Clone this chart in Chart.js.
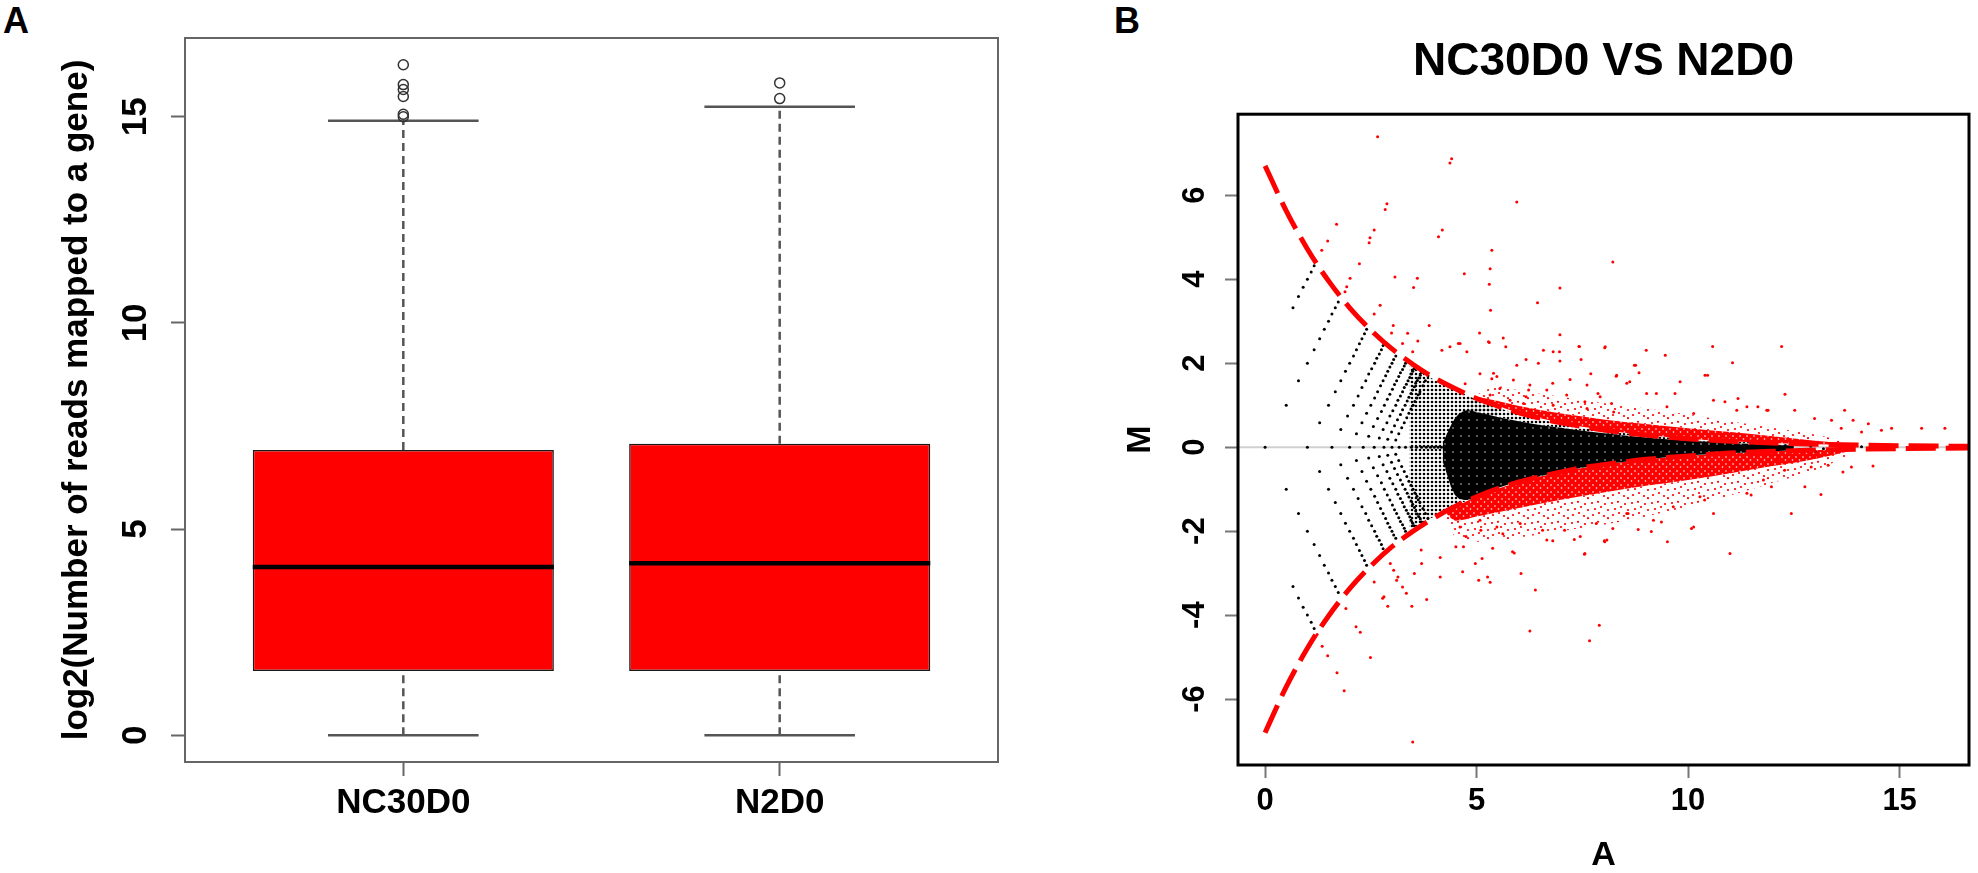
<!DOCTYPE html>
<html>
<head>
<meta charset="utf-8">
<script src="https://cdn.jsdelivr.net/npm/chart.js@4.4.1/dist/chart.umd.min.js"></script>
<style>
    html, body { margin: 0; padding: 0; background: #ffffff; }
    body { width: 1978px; height: 873px; position: relative; overflow: hidden; font-family: "Liberation Sans", Arial, sans-serif; }
    .panel-letter { position: absolute; font-weight: bold; font-size: 36px; line-height: 1; color: #000; }
    #boxWrap { position: absolute; left: 0; top: 0; width: 1010px; height: 873px; }
    #maWrap  { position: absolute; left: 1010px; top: 0; width: 968px; height: 873px; }
</style>
</head>
<body>
<div class="panel-letter" style="left:3px; top:3px;">A</div>
<div class="panel-letter" style="left:1114px; top:3px;">B</div>
<div id="boxWrap"><canvas id="boxChart"></canvas></div>
<div id="maWrap"><canvas id="maChart"></canvas></div>

<script>
// ---------------- Panel A : box plot ----------------
const boxCategories  = ["NC30D0", "N2D0"];
const boxWhiskerLow  = [0, 0];
const boxQ1          = [1.56, 1.56];
const boxMedian      = [4.08, 4.17];
const boxQ3          = [6.92, 7.07];
const boxWhiskerHigh = [14.90, 15.24];
const outlierGroup   = [1, 1, 1, 1, 1, 1, 2, 2];
const outlierValue   = [15.00, 15.06, 15.49, 15.66, 15.78, 16.26, 15.44, 15.82];

// ---------------- Panel B : MA plot ----------------
// dashed red boundary curves
const curveA      = [0, 0.5, 1, 1.5, 2, 2.5, 3, 3.5, 4, 4.5, 5, 5.5, 6, 6.5, 7, 7.5, 8, 9, 10, 11, 12, 13, 14, 15, 16, 17];
const curveUpperM = [6.70, 5.63, 4.72, 3.96, 3.32, 2.79, 2.34, 1.97, 1.65, 1.39, 1.16, 0.98, 0.82, 0.69, 0.58, 0.49, 0.41, 0.29, 0.20, 0.14, 0.10, 0.07, 0.05, 0.035, 0.025, 0.02];
const curveLowerM = [-6.80, -5.71, -4.79, -4.02, -3.37, -2.83, -2.37, -2.00, -1.68, -1.41, -1.18, -0.99, -0.83, -0.70, -0.59, -0.49, -0.42, -0.29, -0.21, -0.14, -0.10, -0.07, -0.05, -0.035, -0.025, -0.02];

// dense black core of the cloud
const coreA      = [4.2, 4.5, 4.8, 5.0, 5.5, 6.0, 6.5, 7.0, 7.5, 8.0, 8.5, 9.0, 9.5, 10.0, 10.5, 11.0, 11.5, 12.0, 12.5];
const coreUpperM = [0.10, 0.70, 0.88, 0.84, 0.72, 0.62, 0.53, 0.46, 0.39, 0.33, 0.28, 0.23, 0.19, 0.16, 0.13, 0.10, 0.08, 0.06, 0.03];
const coreLowerM = [-0.35, -1.15, -1.26, -1.15, -0.97, -0.82, -0.69, -0.58, -0.49, -0.41, -0.35, -0.29, -0.24, -0.20, -0.17, -0.14, -0.12, -0.10, -0.07];

// less dense black fringe between the core and the upper curve
const fringeA      = [4.8, 5.0, 5.5, 6.0, 6.5, 7.0, 7.5, 8.0, 8.5, 9.0, 9.5, 10.0, 10.5, 11.0, 11.5, 12.0, 12.5];
const fringeUpperM = [1.20, 1.12, 0.94, 0.79, 0.66, 0.56, 0.47, 0.39, 0.33, 0.28, 0.23, 0.19, 0.16, 0.135, 0.115, 0.095, 0.08];
const fringeLowerM = [0.88, 0.84, 0.72, 0.62, 0.53, 0.46, 0.39, 0.33, 0.28, 0.23, 0.19, 0.16, 0.13, 0.10, 0.08, 0.06, 0.03];

// lattice region where the low-count points become dense
const shadeA      = [3.4, 3.8, 4.2, 4.6, 5.0, 5.5];
const shadeUpperM = [1.95, 1.72, 1.50, 1.32, 1.13, 0.95];
const shadeLowerM = [-1.98, -1.76, -1.55, -1.36, -1.16, -0.97];

// dense red bands just outside the curves
const redUpA      = [5.0, 5.5, 6.0, 7.0, 8.0, 9.0, 10.0, 11.0, 12.0, 13.0, 13.8];
const redUpInnerM = [1.16, 0.98, 0.82, 0.58, 0.41, 0.29, 0.20, 0.14, 0.10, 0.07, 0.06];
const redUpMidM   = [1.20, 1.10, 0.98, 0.80, 0.66, 0.55, 0.45, 0.36, 0.26, 0.15, 0.08];
const redUpOuterM = [1.25, 1.45, 1.35, 1.20, 1.05, 0.92, 0.78, 0.62, 0.46, 0.30, 0.12];

const redLowA      = [4.3, 4.5, 5.0, 6.0, 7.0, 8.0, 9.0, 10.0, 11.0, 12.0, 13.0, 13.8];
const redLowInnerM = [-1.51, -1.41, -1.18, -0.83, -0.59, -0.42, -0.29, -0.21, -0.14, -0.10, -0.07, -0.06];
const redLowMidM   = [-1.60, -1.75, -1.65, -1.45, -1.25, -1.08, -0.92, -0.78, -0.62, -0.45, -0.28, -0.10];
const redLowOuterM = [-1.70, -2.15, -2.25, -2.15, -2.00, -1.85, -1.65, -1.42, -1.15, -0.85, -0.55, -0.20];

// black low-count lattice points [A, M]
const latticeUpper = [
    [0.66,3.32],[0.79,3.59],[0.90,3.81],[1.00,4.00],[1.09,4.17],[1.16,4.32],
    [0.50,1.00],[0.79,1.58],[1.00,2.00],[1.16,2.32],[1.29,2.58],[1.40,2.81],[1.50,3.00],[1.58,3.17],[1.66,3.32],[1.73,3.46],
    [1.29,0.58],[1.50,1.00],[1.66,1.32],[1.79,1.58],[1.90,1.81],[2.00,2.00],[2.09,2.17],[2.16,2.32],[2.23,2.46],[2.29,2.58],[2.35,2.70],[2.40,2.81],
    [1.79,0.42],[1.95,0.74],[2.09,1.00],[2.20,1.22],[2.29,1.42],[2.38,1.58],[2.45,1.74],[2.52,1.87],[2.59,2.00],[2.64,2.12],[2.70,2.22],[2.75,2.32],[2.79,2.42],
    [2.16,0.32],[2.29,0.58],[2.40,0.81],[2.50,1.00],[2.59,1.17],[2.66,1.32],[2.73,1.46],[2.79,1.58],[2.85,1.70],[2.90,1.81],[2.95,1.91],[3.00,2.00],[3.04,2.09],[3.09,2.17],
    [2.45,0.26],[2.56,0.49],[2.66,0.68],[2.75,0.85],[2.82,1.00],[2.89,1.14],[2.95,1.26],[3.01,1.38],[3.06,1.49],[3.11,1.58],[3.16,1.68],[3.20,1.77],[3.25,1.85],[3.29,1.93],[3.32,2.00],
    [2.70,0.22],[2.79,0.42],[2.88,0.58],[2.95,0.74],[3.02,0.87],[3.09,1.00],[3.14,1.12],[3.20,1.22],[3.25,1.32],[3.29,1.42],[3.34,1.50],[3.38,1.58],[3.42,1.66],[3.45,1.74],[3.49,1.81],[3.52,1.87],
    [2.90,0.19],[2.99,0.36],[3.06,0.51],[3.13,0.65],[3.20,0.78],[3.25,0.89],[3.31,1.00],[3.36,1.10],[3.40,1.19],[3.45,1.28],[3.49,1.36],[3.53,1.44],[3.56,1.52],[3.60,1.59],[3.63,1.65],[3.67,1.71],[3.70,1.78],
    [3.09,0.17],[3.16,0.32],[3.23,0.46],[3.29,0.58],[3.35,0.70],[3.40,0.81],[3.45,0.91],[3.50,1.00],[3.54,1.09],[3.59,1.17],[3.62,1.25],[3.66,1.32],[3.73,1.46],[3.79,1.58],[3.85,1.70]
];
const latticeLower = [
    [0.66,-3.32],[0.79,-3.59],[0.90,-3.81],[1.00,-4.00],[1.09,-4.17],[1.16,-4.32],
    [0.50,-1.00],[0.79,-1.58],[1.00,-2.00],[1.16,-2.32],[1.29,-2.58],[1.40,-2.81],[1.50,-3.00],[1.58,-3.17],[1.66,-3.32],[1.73,-3.46],
    [1.29,-0.58],[1.50,-1.00],[1.66,-1.32],[1.79,-1.58],[1.90,-1.81],[2.00,-2.00],[2.09,-2.17],[2.16,-2.32],[2.23,-2.46],[2.29,-2.58],[2.35,-2.70],[2.40,-2.81],
    [1.79,-0.42],[1.95,-0.74],[2.09,-1.00],[2.20,-1.22],[2.29,-1.42],[2.38,-1.58],[2.45,-1.74],[2.52,-1.87],[2.59,-2.00],[2.64,-2.12],[2.70,-2.22],[2.75,-2.32],[2.79,-2.42],
    [2.16,-0.32],[2.29,-0.58],[2.40,-0.81],[2.50,-1.00],[2.59,-1.17],[2.66,-1.32],[2.73,-1.46],[2.79,-1.58],[2.85,-1.70],[2.90,-1.81],[2.95,-1.91],[3.00,-2.00],[3.04,-2.09],[3.09,-2.17],
    [2.45,-0.26],[2.56,-0.49],[2.66,-0.68],[2.75,-0.85],[2.82,-1.00],[2.89,-1.14],[2.95,-1.26],[3.01,-1.38],[3.06,-1.49],[3.11,-1.58],[3.16,-1.68],[3.20,-1.77],[3.25,-1.85],[3.29,-1.93],[3.32,-2.00],
    [2.70,-0.22],[2.79,-0.42],[2.88,-0.58],[2.95,-0.74],[3.02,-0.87],[3.09,-1.00],[3.14,-1.12],[3.20,-1.22],[3.25,-1.32],[3.29,-1.42],[3.34,-1.50],[3.38,-1.58],[3.42,-1.66],[3.45,-1.74],[3.49,-1.81],[3.52,-1.87],
    [2.90,-0.19],[2.99,-0.36],[3.06,-0.51],[3.13,-0.65],[3.20,-0.78],[3.25,-0.89],[3.31,-1.00],[3.36,-1.10],[3.40,-1.19],[3.45,-1.28],[3.49,-1.36],[3.53,-1.44],[3.56,-1.52],[3.60,-1.59],[3.63,-1.65],[3.67,-1.71],[3.70,-1.78],
    [3.09,-0.17],[3.16,-0.32],[3.23,-0.46],[3.29,-0.58],[3.35,-0.70],[3.40,-0.81],[3.45,-0.91],[3.50,-1.00],[3.54,-1.09],[3.59,-1.17],[3.62,-1.25],[3.66,-1.32],[3.73,-1.46],[3.79,-1.58],[3.85,-1.70]
];
const latticeZero = [[0,0],[1.00,0],[1.58,0],[2.00,0],[2.32,0],[2.58,0],[2.81,0],[3.00,0],[3.17,0],[3.32,0],[3.46,0],[3.58,0],[3.70,0],[3.81,0],[3.91,0],[4.00,0],[4.09,0],[4.17,0]];
const tailBlack   = [[12.30,0.04],[12.45,0.08],[12.60,-0.06],[12.90,0.02],[13.00,-0.09],[13.20,-0.04],[13.50,0.03],[13.80,-0.02],[14.10,0.01]];

// red (significant) points [A, M]
const redUpperPoints = [
    [2.66,7.39],[4.41,6.87],[4.37,6.77],[5.95,5.84],[8.22,4.41],[1.69,5.31],[1.48,4.91],[1.34,4.69],[2.88,5.80],[2.84,5.66],
    [2.58,5.17],[2.48,4.99],[2.46,4.87],[2.23,4.37],[2.01,4.02],[1.93,3.82],[1.89,3.70],[3.07,4.05],[3.60,4.02],[3.51,3.80],
    [2.72,3.38],[2.58,3.17],[3.03,2.90],[2.99,2.72],[3.37,2.71],[3.25,2.47],[3.49,2.27],[3.61,2.53],[3.88,2.90],[4.10,5.01],
    [4.19,5.17],[4.71,4.13],[5.36,4.69],[5.32,4.25],[5.30,3.88],[5.33,3.26],[5.07,2.72],[5.30,2.49],[6.44,3.44],[6.97,3.79],
    [6.97,2.68],[6.97,2.05],[6.96,2.27],[7.42,2.40],[6.58,2.31],[6.17,2.09],[5.63,2.60],[5.69,2.39],[4.57,2.47],[4.77,2.27],
    [4.37,2.39],[4.18,2.31],[7.47,2.09],[8.04,2.39],[8.30,1.69],[7.21,1.61],[6.80,1.52],[6.26,1.48],[6.17,1.20],[5.87,1.60],
    [5.48,1.68],[5.40,1.76],[4.61,2.47],[5.28,2.51],[7.43,2.40],[10.58,2.40],[9.46,2.19],[8.73,1.95],[11.05,2.01],[10.40,1.71],
    [10.46,1.71],[9.81,1.56],[8.31,1.71],[8.55,1.52],[7.61,1.48],[6.81,2.27],[6.46,2.00],[5.95,1.95],[5.08,1.75],[5.36,1.63],
    [5.55,1.40],[4.73,1.51],[5.32,1.24],[6.23,1.36],[6.66,1.36],[7.13,1.24],[7.92,1.20],[9.02,1.28],[9.50,0.96],[10.60,1.12],
    [11.39,0.96],[11.86,0.88],[11.15,0.88],[10.13,0.80],[8.24,0.84],[7.61,0.92],[6.81,1.00],[6.11,1.04],[5.79,1.12],[8.03,2.37],
    [9.01,2.31],[12.21,2.40],[8.76,1.95],[8.84,1.77],[7.70,1.75],[8.62,1.56],[12.29,1.26],[13.70,0.88],[15.52,0.45],[16.07,0.45],
    [14.81,0.45],[14.57,0.40],[14.26,0.56],[14.10,0.36],[13.90,0.64],[13.62,0.45],[13.39,0.64],[12.99,0.68],[12.52,0.88],[11.65,0.96],
    [11.18,1.16],[11.89,0.88],[9.69,1.28],[10.87,1.08],[9.25,1.28],[7.87,1.28],[7.56,1.08],[8.19,1.04]
];
const redLowerPoints = [
    [1.23,-4.46],[1.35,-4.74],[1.48,-4.97],[1.70,-5.37],[1.87,-5.80],[2.15,-4.28],[2.25,-4.41],[2.49,-5.01],[1.91,-3.84],[2.58,-3.21],
    [2.78,-3.60],[2.90,-3.79],[2.96,-2.77],[3.14,-3.09],[3.25,-3.33],[3.34,-3.48],[3.47,-3.79],[3.53,-3.01],[3.69,-2.45],[3.82,-3.63],
    [4.14,-3.09],[4.14,-2.63],[4.67,-2.97],[4.97,-2.77],[5.13,-2.65],[5.32,-3.22],[5.26,-3.09],[5.89,-2.52],[6.05,-3.01],[6.39,-3.40],
    [6.26,-4.38],[7.67,-4.61],[7.90,-4.24],[7.55,-2.55],[8.02,-2.23],[7.31,-2.20],[6.80,-2.23],[5.38,-2.41],[4.51,-2.37],[4.75,-2.13],
    [5.10,-1.98],[5.62,-2.06],[5.85,-2.49],[6.56,-1.98],[7.08,-1.98],[3.49,-7.02],[6.66,-2.21],[7.45,-2.13],[8.08,-2.21],[10.13,-1.90],
    [10.99,-2.53],[9.18,-1.74],[8.55,-1.58],[10.60,-1.58],[6.03,-1.82],[5.48,-1.90],[5.08,-1.74],[4.61,-1.90],[4.69,-2.37],[9.65,-1.42],
    [11.39,-1.10],[10.28,-1.18],[11.78,-0.78],[12.44,-1.58],[13.14,-1.13],[13.66,-0.59],[14.37,-0.45],[12.76,-0.94],[10.08,-1.94],[9.51,-2.25],
    [9.13,-2.01],[8.82,-1.96],[8.03,-2.25],[7.56,-2.53],[8.22,-1.94],[7.83,-1.82],[8.58,-1.58],[9.37,-1.78],[10.39,-1.26],[11.49,-1.14],
    [11.97,-0.94],[12.28,-0.55],[12.91,-0.47],[13.31,-0.43],[13.86,-0.47],[13.07,-0.23],[12.13,-0.31],[2.81,-3.56],[3.04,-2.93],[3.11,-3.17],
    [3.70,-2.77],[5.05,-3.17]
];

// axis limits (R style: data range extended by 4%)
const BOX_X_MIN = 0.42, BOX_X_MAX = 2.58, BOX_Y_MIN = -0.65, BOX_Y_MAX = 16.91;
const MA_A_MIN = -0.64, MA_A_MAX = 16.64, MA_M_MIN = -7.57, MA_M_MAX = 7.93;

const FONT = "Liberation Sans";
Chart.defaults.font.family = FONT;
Chart.defaults.color = "#000";

// Small repeating dot textures, used to fill the over-plotted areas of the cloud.
function dotTexture (w, h, bg, dotColor, r, dots) {
    const c = document.createElement("canvas");
    c.width = w;
    c.height = h;
    const g = c.getContext("2d");
    if (bg) {
        g.fillStyle = bg;
        g.fillRect(0, 0, w, h);
    }
    g.fillStyle = dotColor;
    dots.forEach(d => {
        g.beginPath();
        g.arc(d[0], d[1], r, 0, Math.PI * 2);
        g.fill();
    });
    return g.createPattern(c, "repeat");
}
const latticeTexture   = dotTexture(4, 4, null, "#000000", 1.3, [[2, 2]]);
const coreTexture      = dotTexture(8, 8, "#000000", "#ffffff", 0.7, [[3, 4]]);
const redDenseTexture  = dotTexture(7, 7, "#ff0000", "#ffffff", 0.8, [[2, 2], [5.5, 5]]);
const redSparseTexture = dotTexture(20, 20, null, "#ff0000", 1.1,
    [[2, 3], [8, 1.8], [15, 4], [5, 9], [11, 7], [18, 10], [3, 15], [9, 13], [14, 16], [18, 18.2]]);

// Draws y tick labels rotated like R's default axis labels.
const rotatedYTicks = {
    id: "rotatedYTicks",
    afterDraw (chart, args, opts) {
        const scale = chart.scales.y;
        const ctx = chart.ctx;
        ctx.save();
        ctx.font = opts.font;
        ctx.fillStyle = "#000";
        ctx.textAlign = "center";
        ctx.textBaseline = "middle";
        scale.ticks.forEach(t => {
            const y = scale.getPixelForValue(t.value);
            ctx.save();
            ctx.translate(opts.x, y);
            ctx.rotate(-Math.PI / 2);
            ctx.fillText(String(t.value), 0, 0);
            ctx.restore();
        });
        ctx.restore();
    }
};

// Box round the plotting region.
const plotFrame = {
    id: "plotFrame",
    afterDraw (chart, args, opts) {
        const a = chart.chartArea;
        const ctx = chart.ctx;
        ctx.save();
        ctx.strokeStyle = opts.color;
        ctx.lineWidth = opts.width;
        ctx.strokeRect(a.left, a.top, a.right - a.left, a.bottom - a.top);
        ctx.restore();
    }
};

function zip (xs, ys) {
    return xs.map((x, i) => ({ x: x, y: ys[i] }));
}
function pts (pairs) {
    return pairs.map(p => ({ x: p[0], y: p[1] }));
}
function segment (data, style) {
    return Object.assign({ type: "line", data: data, pointRadius: 0, fill: false, tension: 0 }, style);
}
function bandEdge (xs, ys, extra) {
    return Object.assign({
        type: "line", data: zip(xs, ys), pointRadius: 0, borderWidth: 0,
        borderColor: "rgba(0,0,0,0)", cubicInterpolationMode: "monotone"
    }, extra);
}
function band (xs, top, bottom, fillStyle, order) {
    return [
        bandEdge(xs, top, { fill: "+1", backgroundColor: fillStyle, order: order }),
        bandEdge(xs, bottom, { fill: false, order: order })
    ];
}

// ---------- build panel A ----------
const boxDatasets = [];
boxDatasets.push({
    type: "bar",
    data: boxCategories.map((c, i) => ({ x: i + 1, y: [boxQ1[i], boxQ3[i]] })),
    backgroundColor: "#ff0000",
    borderColor: "#1a1a1a",
    borderWidth: 1.5,
    borderSkipped: false,
    barPercentage: 0.8,
    categoryPercentage: 1.0,
    order: 5
});
boxCategories.forEach((c, i) => {
    const pos = i + 1;
    const whisker = { borderColor: "#555", borderWidth: 2.5, borderDash: [8, 5], order: 2 };
    const staple  = { borderColor: "#555", borderWidth: 2.5, order: 2 };
    boxDatasets.push(segment([{ x: pos, y: boxQ3[i] }, { x: pos, y: boxWhiskerHigh[i] }], whisker));
    boxDatasets.push(segment([{ x: pos, y: boxWhiskerLow[i] }, { x: pos, y: boxQ1[i] }], whisker));
    boxDatasets.push(segment([{ x: pos - 0.2, y: boxWhiskerHigh[i] }, { x: pos + 0.2, y: boxWhiskerHigh[i] }], staple));
    boxDatasets.push(segment([{ x: pos - 0.2, y: boxWhiskerLow[i] }, { x: pos + 0.2, y: boxWhiskerLow[i] }], staple));
    boxDatasets.push(segment([{ x: pos - 0.4, y: boxMedian[i] }, { x: pos + 0.4, y: boxMedian[i] }],
        { borderColor: "#000", borderWidth: 4.5, order: 1 }));
});
boxDatasets.push({
    type: "scatter",
    data: outlierGroup.map((g, i) => ({ x: g, y: outlierValue[i] })),
    pointRadius: 5,
    pointBorderWidth: 1.5,
    pointBorderColor: "#333",
    pointBackgroundColor: "rgba(255,255,255,0)",
    order: 0
});

const tickFontA = { family: FONT, weight: "bold", size: 35, lineHeight: 1.2 };

new Chart(document.getElementById("boxChart"), {
    type: "bar",
    data: { datasets: boxDatasets },
    plugins: [rotatedYTicks, plotFrame],
    options: {
        responsive: true,
        maintainAspectRatio: false,
        animation: false,
        events: [],
        layout: { padding: { left: 0, right: 12, top: 38, bottom: 0 } },
        plugins: {
            legend: { display: false },
            tooltip: { enabled: false },
            rotatedYTicks: { x: 136, font: "bold 35px \"" + FONT + "\"" },
            plotFrame: { color: "#666", width: 2 }
        },
        scales: {
            x: {
                type: "linear",
                min: BOX_X_MIN,
                max: BOX_X_MAX,
                offset: false,
                afterBuildTicks: axis => { axis.ticks = boxCategories.map((c, i) => ({ value: i + 1 })); },
                afterFit: axis => { axis.height = 111; },
                ticks: {
                    font: tickFontA,
                    color: "#000",
                    padding: 6,
                    maxRotation: 0,
                    autoSkip: false,
                    callback: value => boxCategories[value - 1] || ""
                },
                grid: { display: true, offset: false, drawOnChartArea: false, drawTicks: true, tickLength: 14, tickColor: "#666", tickWidth: 2 },
                border: { display: false }
            },
            y: {
                type: "linear",
                min: BOX_Y_MIN,
                max: BOX_Y_MAX,
                afterFit: axis => { axis.width = 185; },
                ticks: { display: false, stepSize: 5, includeBounds: false },
                grid: { display: true, drawOnChartArea: false, drawTicks: true, tickLength: 14, tickColor: "#666", tickWidth: 2 },
                border: { display: false },
                title: {
                    display: true,
                    text: "log2(Number of reads mapped to a gene)",
                    font: { family: FONT, weight: "bold", size: 35, lineHeight: 1 },
                    color: "#000",
                    padding: { top: 60, bottom: 0 }
                }
            }
        }
    }
});

// ---------- build panel B ----------
const curveStyle = {
    type: "line", pointRadius: 0, fill: false, borderColor: "#ff0000",
    borderWidth: 5, borderDash: [30, 10], cubicInterpolationMode: "monotone", clip: 0, order: 1
};
const maDatasets = [
    segment([{ x: MA_A_MIN, y: 0 }, { x: MA_A_MAX, y: 0 }], { borderColor: "#d0d0d0", borderWidth: 2, order: 10 }),
    ...band(shadeA, shadeUpperM, shadeLowerM, latticeTexture, 9),
    ...band(redUpA, redUpMidM, redUpOuterM, redSparseTexture, 8),
    ...band(redLowA, redLowMidM, redLowOuterM, redSparseTexture, 8),
    ...band(redUpA, redUpInnerM, redUpMidM, redDenseTexture, 7),
    ...band(redLowA, redLowInnerM, redLowMidM, redDenseTexture, 7),
    ...band(fringeA, fringeUpperM, fringeLowerM, latticeTexture, 7),
    ...band(coreA, coreUpperM, coreLowerM, coreTexture, 6),
    {
        type: "scatter",
        data: pts(redUpperPoints.concat(redLowerPoints)),
        pointRadius: 1.5, pointBorderWidth: 0, pointBackgroundColor: "#ff0000", order: 4
    },
    {
        type: "scatter",
        data: pts(latticeUpper.concat(latticeLower, latticeZero, tailBlack)),
        pointRadius: 1.5, pointBorderWidth: 0, pointBackgroundColor: "#000000", order: 3
    },
    Object.assign({ data: zip(curveA, curveUpperM) }, curveStyle),
    Object.assign({ data: zip(curveA, curveLowerM) }, curveStyle)
];

const gridB = { display: true, drawOnChartArea: false, drawTicks: true, tickLength: 13, tickColor: "#777", tickWidth: 2 };

new Chart(document.getElementById("maChart"), {
    type: "scatter",
    data: { datasets: maDatasets },
    plugins: [rotatedYTicks, plotFrame],
    options: {
        responsive: true,
        maintainAspectRatio: false,
        animation: false,
        events: [],
        layout: { padding: { left: 0, right: 9, top: 0, bottom: 0 } },
        plugins: {
            legend: { display: false },
            tooltip: { enabled: false },
            title: {
                display: true,
                text: "NC30D0 VS N2D0",
                fullSize: false,
                color: "#000",
                font: { family: FONT, weight: "bold", size: 46, lineHeight: 1.2 },
                padding: { top: 35, bottom: 24 }
            },
            rotatedYTicks: { x: 185, font: "bold 31px \"" + FONT + "\"" },
            plotFrame: { color: "#000", width: 3 }
        },
        scales: {
            x: {
                type: "linear",
                min: MA_A_MIN,
                max: MA_A_MAX,
                afterFit: axis => { axis.height = 108; },
                ticks: { stepSize: 5, includeBounds: false, font: { family: FONT, weight: "bold", size: 31 }, color: "#000", padding: 5, maxRotation: 0 },
                grid: gridB,
                border: { display: false },
                title: {
                    display: true, text: "A", color: "#000",
                    font: { family: FONT, weight: "bold", size: 34, lineHeight: 1 },
                    padding: { top: 0, bottom: 0 }
                }
            },
            y: {
                type: "linear",
                min: MA_M_MIN,
                max: MA_M_MAX,
                afterFit: axis => { axis.width = 228; },
                ticks: { display: false, stepSize: 2, includeBounds: false },
                grid: gridB,
                border: { display: false },
                title: {
                    display: true, text: "M", color: "#000",
                    font: { family: FONT, weight: "bold", size: 34, lineHeight: 1 },
                    padding: { top: 114, bottom: 0 }
                }
            }
        }
    }
});
</script>
</body>
</html>
